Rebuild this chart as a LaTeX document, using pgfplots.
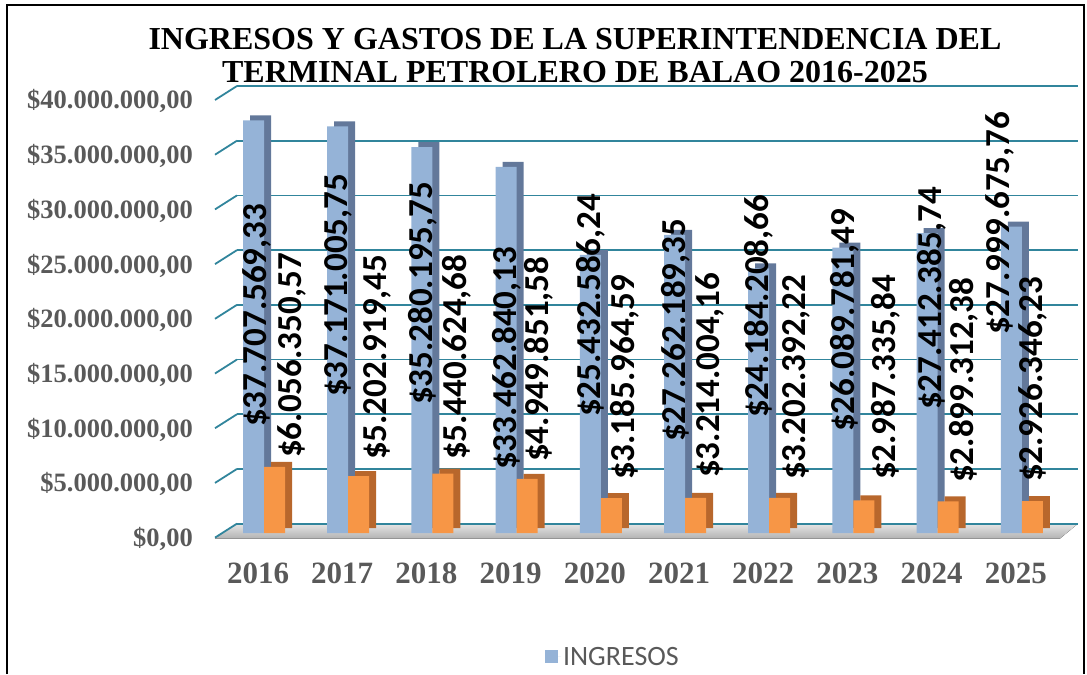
\documentclass[border=0pt]{standalone}
\usepackage{fontspec}
\setmainfont{Liberation Serif}
\newfontfamily\carlito{Carlito}
\usepackage{pgfplots}
\usepackage{pgfplotstable}
\pgfplotsset{compat=1.18}

\definecolor{gridteal}{HTML}{31859C}
\definecolor{ingfront}{HTML}{95B3D7}
\definecolor{ingside}{HTML}{63789A}
\definecolor{gasfront}{HTML}{F79646}
\definecolor{gasside}{HTML}{B8672C}
\definecolor{tickgray}{HTML}{595959}

% ingresos y gastos por año (x = 0 ... 9 -> 2016 ... 2025)
\pgfplotstableread{
x ing gas
0 37707569.33 6056350.57
1 37171005.75 5202919.45
2 35280195.75 5440624.68
3 33462840.13 4949851.58
4 25432586.24 3185964.59
5 27262189.35 3214004.16
6 24184208.66 3202392.22
7 26089781.49 2987335.84
8 27412385.74 2899312.38
9 27999675.76 2926346.23
}\datatable

\begin{document}
\begin{tikzpicture}[x=1pt,y=1pt]
\path (0,0) rectangle (1087,674);
\draw[line width=1.5pt] (7,0) -- (7,669) -- (1084,669) -- (1084,0);

\begin{axis}[
    at={(237pt,135.5pt)}, anchor=south west,
    scale only axis, width=841pt, height=443.1pt,
    xmin=-0.3207, xmax=9.667,
    ymin=-0.5e6, ymax=40e6,
    scaled y ticks=false,
    clip=false,
    axis line style={draw=none}, tick style={draw=none},
    xtick={0,1,2,3,4,5,6,7,8,9},
    xticklabels={2016,2017,2018,2019,2020,2021,2022,2023,2024,2025},
    xticklabel style={font=\bfseries\fontsize{31}{31}\selectfont, text=tickgray,
        anchor=north, inner sep=0pt, xshift=-6pt, yshift=-24pt},
    ytick={0,5e6,10e6,15e6,20e6,25e6,30e6,35e6,40e6},
    yticklabels={{\$0,00},{\$5.000.000,00},{\$10.000.000,00},{\$15.000.000,00},
        {\$20.000.000,00},{\$25.000.000,00},{\$30.000.000,00},{\$35.000.000,00},
        {\$40.000.000,00}},
    yticklabel style={font=\bfseries\fontsize{26.5}{26.5}\selectfont, text=tickgray,
        anchor=east, inner sep=0pt, xshift=-44pt, yshift=-6pt},
    ymajorgrids,
    major grid style={gridteal, line width=1.8pt, yshift=9.4pt},
    legend style={at={(0.447,-0.267)}, anchor=center, draw=none, fill=none,
        font=\carlito\fontsize{28}{28}\selectfont, text=tickgray},
    legend image code/.code={\fill[ingfront] (0pt,-6.5pt) rectangle (13pt,6.5pt);
        \path (0pt,0pt) -- (16pt,0pt);},
]
% suelo
\fill[top color=gray!20, bottom color=gray!60]
    ([xshift=-22pt]axis cs:-0.3207,-0.5e6) -- ([xshift=-18pt]axis cs:9.667,-0.5e6)
    -- ([yshift=9.4pt]axis cs:9.667,0) -- ([yshift=9.4pt]axis cs:-0.3207,0) -- cycle;
\draw[gridteal, line width=1.8pt] ([yshift=9.4pt]axis cs:-0.3207,0) -- ([yshift=9.4pt]axis cs:9.667,0);
\pgfplotsinvokeforeach{0,5e6,10e6,15e6,20e6,25e6,30e6,35e6,40e6}{
  \draw[gridteal, line width=1.8pt] ([xshift=-22pt,yshift=-4.6pt]axis cs:-0.3207,#1)
      -- ([yshift=9.4pt]axis cs:-0.3207,#1);
}

% barras (cara lateral + frontal)
\addplot[ybar, bar width=21pt, bar shift=-3.5pt, yshift=5pt, fill=ingside, draw=none, forget plot]
    table[x=x, y=ing] {\datatable};
\addplot[ybar, bar width=21pt, bar shift=-10.5pt, fill=ingfront, draw=none]
    table[x=x, y=ing] {\datatable};
\addlegendentry{INGRESOS}
\addplot[ybar, bar width=21pt, bar shift=17.5pt, yshift=5pt, fill=gasside, draw=none, forget plot]
    table[x=x, y=gas] {\datatable};
\addplot[ybar, bar width=21pt, bar shift=10.5pt, fill=gasfront, draw=none, forget plot]
    table[x=x, y=gas] {\datatable};

% etiquetas de datos
\addplot[only marks, mark size=0pt, forget plot, nodes near coords, point meta=explicit symbolic,
    nodes near coords style={rotate=90, anchor=west, inner sep=0pt, text=black,
        font=\carlito\bfseries\fontsize{35}{35}\selectfont}]
coordinates {
(-0.083,9.69e6) [\$37.707.569,33]
(0.333,6.86e6) [\$6.056.350,57]
(0.879,12.43e6) [\$37.171.005,75]
(1.342,6.67e6) [\$5.202.919,45]
(1.888,11.70e6) [\$35.280.195,75]
(2.292,6.67e6) [\$5.440.624,68]
(2.886,5.76e6) [\$33.462.840,13]
(3.266,6.49e6) [\$4.949.851,58]
(3.884,10.60e6) [\$25.432.586,24]
(4.287,4.84e6) [\$3.185.964,59]
(4.893,8.32e6) [\$27.262.189,35]
(5.297,5.03e6) [\$3.214.004,16]
(5.879,10.51e6) [\$24.184.208,66]
(6.318,4.84e6) [\$3.202.392,22]
(6.900,9.23e6) [\$26.089.781,49]
(7.387,4.84e6) [\$2.987.335,84]
(7.933,11.24e6) [\$27.412.385,74]
(8.314,4.57e6) [\$2.899.312,38]
(8.741,18.10e6) [\$27.999.675,76]
(9.133,4.66e6) [\$2.926.346,23]
};
\end{axis}

\node[font=\bfseries\fontsize{32}{33}\selectfont, align=center] at (575,618)
    {INGRESOS Y GASTOS DE LA SUPERINTENDENCIA DEL\\TERMINAL PETROLERO DE BALAO 2016-2025};
\end{tikzpicture}
\end{document}
